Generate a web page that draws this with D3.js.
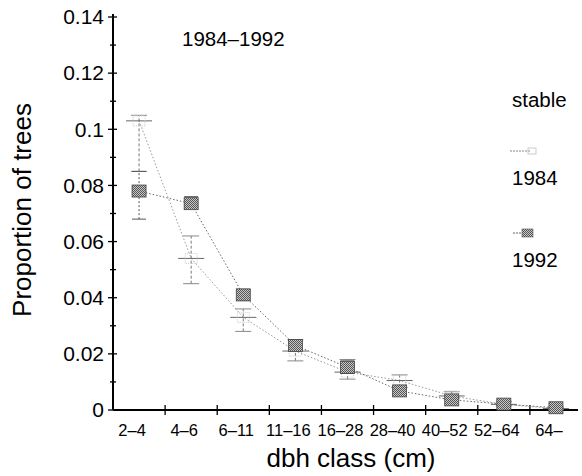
<!DOCTYPE html>
<html><head><meta charset="utf-8">
<script src="https://cdn.jsdelivr.net/npm/d3@7"></script>
<style>body{margin:0;background:#fff}svg{display:block;font-family:"Liberation Sans",Arial,sans-serif}</style>
</head><body><svg id="c" width="582" height="476"></svg>
<script>
const categories = ["2–4","4–6","6–11","11–16","16–28","28–40","40–52","52–64","64–"];
const v1984 = [0.103, 0.054, 0.033, 0.021, 0.0135, 0.0105, 0.005, 0.002, 0.0005];
const lo1984 = [0.085, 0.045, 0.028, 0.0175, 0.011, 0.008, 0.004, 0.0015, 0.0002];
const hi1984 = [0.105, 0.062, 0.036, 0.025, 0.018, 0.0125, 0.0065, 0.003, 0.001];
const v1992 = [0.078, 0.0735, 0.041, 0.023, 0.0152, 0.0068, 0.0036, 0.0021, 0.0008];
const lo1992 = [0.068, 0.072, 0.039, 0.0215, 0.013, 0.0055, 0.0025, 0.0015, 0.0003];
const hi1992 = [0.085, 0.076, 0.043, 0.025, 0.0175, 0.0085, 0.0048, 0.003, 0.0012];
const yTicks = [0, 0.02, 0.04, 0.06, 0.08, 0.1, 0.12, 0.14];
const yTickLabels = ["0","0.02","0.04","0.06","0.08","0.1","0.12","0.14"];

const svg = d3.select("#c");
const x0 = 113, x1 = 578, yTop = 17, yBot = 410;
const y = d3.scaleLinear().domain([0, 0.14]).range([yBot, yTop]);
const x = d3.scaleBand().domain(categories).range([113, 582]).padding(0);
const cx = c => x(c) + x.bandwidth()/2;

// pattern
const defs = svg.append("defs");
const pat = defs.append("pattern").attr("id","hatch").attr("width",2).attr("height",2).attr("patternUnits","userSpaceOnUse");
pat.append("rect").attr("width",2).attr("height",2).attr("fill","#c8c8c8");
pat.append("rect").attr("width",1).attr("height",1).attr("fill","#555");
pat.append("rect").attr("x",1).attr("y",1).attr("width",1).attr("height",1).attr("fill","#555");

// axes
const ya = svg.append("g").attr("transform",`translate(${x0},0)`);
ya.append("line").attr("y1",yTop-3).attr("y2",yBot).attr("stroke","#000").attr("stroke-width",2);
d3.range(0, 0.1401, 0.01).forEach(v => {
  const major = Math.round(v*100) % 2 === 0;
  ya.append("line").attr("x1",major?-5:-3).attr("x2",major?4:3).attr("y1",y(v)).attr("y2",y(v)).attr("stroke","#000").attr("stroke-width",1.3);
});
yTicks.forEach((v,i) => {
  ya.append("text").attr("x",-9).attr("y",y(v)).attr("dy","0.35em").attr("text-anchor","end")
    .attr("font-size",21).text(yTickLabels[i]);
});

const xa = svg.append("g").attr("transform",`translate(0,${yBot})`);
xa.append("line").attr("x1",x0).attr("x2",x1).attr("stroke","#000").attr("stroke-width",2);
categories.slice(0,-1).forEach(c => {
  const t = x(c) + x.bandwidth();
  xa.append("line").attr("x1",t).attr("x2",t).attr("y1",-5).attr("y2",5).attr("stroke","#000").attr("stroke-width",1.3);
});
categories.forEach(c => {
  xa.append("text").attr("x",cx(c)-7).attr("y",26).attr("text-anchor","middle")
    .attr("font-size",16.5).text(c);
});

svg.append("text").attr("transform",`translate(31,210) rotate(-90)`).attr("text-anchor","middle")
  .attr("font-size",26).text("Proportion of trees");
svg.append("text").attr("x",351).attr("y",467).attr("text-anchor","middle").attr("font-size",26).text("dbh class (cm)");
svg.append("text").attr("x",182).attr("y",39).attr("dy","0.35em").attr("font-size",20.5).text("1984–1992");

// lines
const line = (vals) => d3.line().x((d,i)=>cx(categories[i])).y(d=>y(d))(vals);
svg.append("path").attr("d",line(v1984)).attr("fill","none").attr("stroke","#999").attr("stroke-width",1).attr("stroke-dasharray","1.5,2");
svg.append("path").attr("d",line(v1992)).attr("fill","none").attr("stroke","#666").attr("stroke-width",1).attr("stroke-dasharray","1.5,2");

// 1984 error bars & markers
categories.forEach((c,i) => {
  const px = cx(c);
  const g = svg.append("g");
  g.append("line").attr("x1",px).attr("x2",px).attr("y1",y(lo1984[i])).attr("y2",y(hi1984[i])).attr("stroke","#777").attr("stroke-dasharray","3,2");
  [lo1984[i], hi1984[i]].forEach(v => g.append("line").attr("x1",px-8).attr("x2",px+8).attr("y1",y(v)).attr("y2",y(v)).attr("stroke","#888").attr("stroke-width",1));
  g.append("line").attr("x1",px-13).attr("x2",px+13).attr("y1",y(v1984[i])).attr("y2",y(v1984[i])).attr("stroke","#666").attr("stroke-width",1);
  g.append("rect").attr("x",px-6).attr("y",y(v1984[i])-5).attr("width",12).attr("height",10).attr("fill","none").attr("stroke","#ccc").attr("stroke-dasharray","1,1");
});
// 1992 error bars & markers
categories.forEach((c,i) => {
  const px = cx(c);
  const g = svg.append("g");
  g.append("line").attr("x1",px).attr("x2",px).attr("y1",y(lo1992[i])).attr("y2",y(hi1992[i])).attr("stroke","#555").attr("stroke-dasharray","2,2");
  [lo1992[i], hi1992[i]].forEach(v => g.append("line").attr("x1",px-7).attr("x2",px+7).attr("y1",y(v)).attr("y2",y(v)).attr("stroke","#555").attr("stroke-width",1));
  g.append("rect").attr("x",px-7).attr("y",y(v1992[i])-6).attr("width",14).attr("height",12).attr("fill","url(#hatch)").attr("stroke","#444").attr("stroke-width",0.8);
});

// legend
svg.append("text").attr("x",512).attr("y",100).attr("dy","0.35em").attr("font-size",20.5).text("stable");
svg.append("line").attr("x1",510).attr("x2",530).attr("y1",151).attr("y2",151).attr("stroke","#888").attr("stroke-dasharray","2,1");
svg.append("rect").attr("x",528).attr("y",148).attr("width",8).attr("height",6).attr("fill","none").attr("stroke","#ccc");
svg.append("text").attr("x",512).attr("y",178).attr("dy","0.35em").attr("font-size",20.5).text("1984");
svg.append("line").attr("x1",513).attr("x2",522).attr("y1",233).attr("y2",233).attr("stroke","#666").attr("stroke-dasharray","2,1");
svg.append("rect").attr("x",522).attr("y",229).attr("width",11).attr("height",8).attr("fill","url(#hatch)").attr("stroke","#555").attr("stroke-width",0.6);
svg.append("text").attr("x",512).attr("y",260).attr("dy","0.35em").attr("font-size",20.5).text("1992");
</script></body></html>
